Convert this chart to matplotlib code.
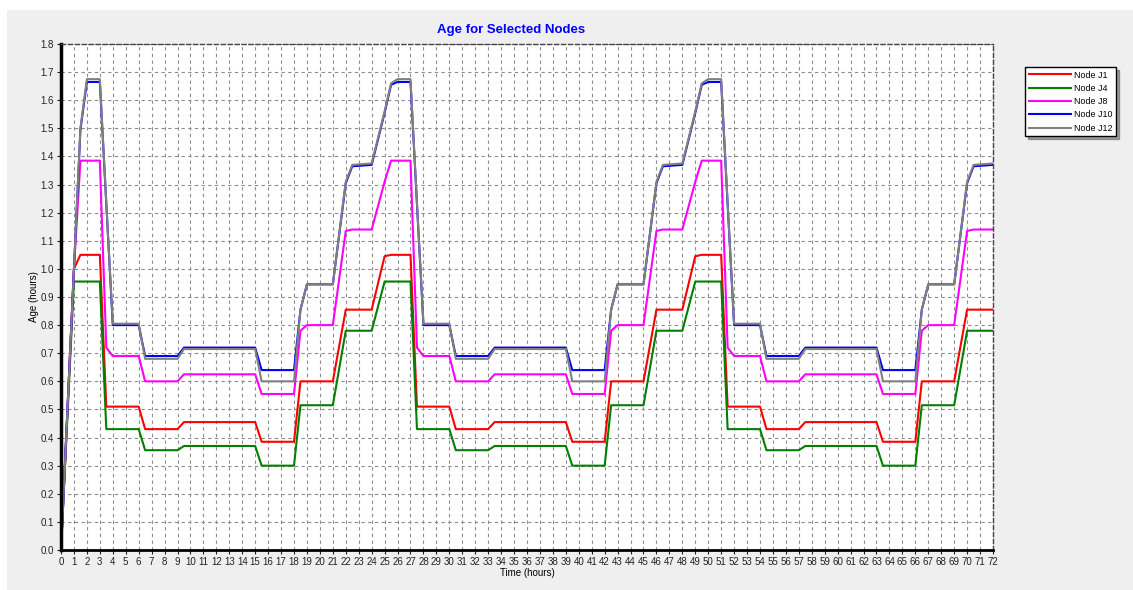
import matplotlib
matplotlib.use("Agg")
import matplotlib.pyplot as plt
from matplotlib.patches import Rectangle
from matplotlib.ticker import FormatStrFormatter

plt.rcParams["font.family"] = ["Liberation Sans", "DejaVu Sans"]

# time breakpoints (hours)
hours = [0, 1, 1.5, 2, 3,
         3.5, 4, 6, 6.5, 9, 9.5, 15, 15.5, 18, 18.5, 19, 21, 22, 22.5, 24, 25, 25.5, 26, 27,
         27.5, 28, 30, 30.5, 33, 33.5, 39, 39.5, 42, 42.5, 43, 45, 46, 46.5, 48, 49, 49.5, 50, 51,
         51.5, 52, 54, 54.5, 57, 57.5, 63, 63.5, 66, 66.5, 67, 69, 70, 70.5, 72]

node_j1 = [0, 1.0, 1.05, 1.05, 1.05,
           0.51, 0.51, 0.51, 0.43, 0.43, 0.455, 0.455, 0.385, 0.385, 0.60, 0.60, 0.60, 0.855, 0.855, 0.855, 1.045, 1.05, 1.05, 1.05,
           0.51, 0.51, 0.51, 0.43, 0.43, 0.455, 0.455, 0.385, 0.385, 0.60, 0.60, 0.60, 0.855, 0.855, 0.855, 1.045, 1.05, 1.05, 1.05,
           0.51, 0.51, 0.51, 0.43, 0.43, 0.455, 0.455, 0.385, 0.385, 0.60, 0.60, 0.60, 0.855, 0.855, 0.855]
node_j4 = [0, 0.955, 0.955, 0.955, 0.955,
           0.43, 0.43, 0.43, 0.355, 0.355, 0.37, 0.37, 0.30, 0.30, 0.515, 0.515, 0.515, 0.78, 0.78, 0.78, 0.955, 0.955, 0.955, 0.955,
           0.43, 0.43, 0.43, 0.355, 0.355, 0.37, 0.37, 0.30, 0.30, 0.515, 0.515, 0.515, 0.78, 0.78, 0.78, 0.955, 0.955, 0.955, 0.955,
           0.43, 0.43, 0.43, 0.355, 0.355, 0.37, 0.37, 0.30, 0.30, 0.515, 0.515, 0.515, 0.78, 0.78, 0.78]
node_j8 = [0, 1.0, 1.385, 1.385, 1.385,
           0.72, 0.69, 0.69, 0.60, 0.60, 0.625, 0.625, 0.555, 0.555, 0.78, 0.80, 0.80, 1.135, 1.14, 1.14, 1.31, 1.385, 1.385, 1.385,
           0.72, 0.69, 0.69, 0.60, 0.60, 0.625, 0.625, 0.555, 0.555, 0.78, 0.80, 0.80, 1.135, 1.14, 1.14, 1.31, 1.385, 1.385, 1.385,
           0.72, 0.69, 0.69, 0.60, 0.60, 0.625, 0.625, 0.555, 0.555, 0.78, 0.80, 0.80, 1.135, 1.14, 1.14]
node_j10 = [0, 1.0, 1.495, 1.665, 1.665,
            1.23, 0.80, 0.80, 0.69, 0.69, 0.72, 0.72, 0.64, 0.64, 0.855, 0.945, 0.945, 1.305, 1.365, 1.37, 1.555, 1.655, 1.665, 1.665,
            1.23, 0.80, 0.80, 0.69, 0.69, 0.72, 0.72, 0.64, 0.64, 0.855, 0.945, 0.945, 1.305, 1.365, 1.37, 1.555, 1.655, 1.665, 1.665,
            1.23, 0.80, 0.80, 0.69, 0.69, 0.72, 0.72, 0.64, 0.64, 0.855, 0.945, 0.945, 1.305, 1.365, 1.37]
node_j12 = [0, 1.0, 1.5, 1.675, 1.675,
            1.235, 0.805, 0.805, 0.68, 0.68, 0.715, 0.715, 0.60, 0.60, 0.855, 0.945, 0.945, 1.31, 1.37, 1.375, 1.56, 1.66, 1.675, 1.675,
            1.235, 0.805, 0.805, 0.68, 0.68, 0.715, 0.715, 0.60, 0.60, 0.855, 0.945, 0.945, 1.31, 1.37, 1.375, 1.56, 1.66, 1.675, 1.675,
            1.235, 0.805, 0.805, 0.68, 0.68, 0.715, 0.715, 0.60, 0.60, 0.855, 0.945, 0.945, 1.31, 1.37, 1.375]

series = [("Node J1", node_j1, "#ff0000"),
          ("Node J4", node_j4, "#008000"),
          ("Node J8", node_j8, "#ff00ff"),
          ("Node J10", node_j10, "#0000ff"),
          ("Node J12", node_j12, "#808080")]

W, H = 1133, 590
fig = plt.figure(figsize=(W / 100, H / 100), dpi=100, facecolor="white")
# light grey panel behind everything
panel = Rectangle((7 / W, 0), 1 - 7 / W, 1 - 10 / H, transform=fig.transFigure,
                  facecolor="#efefef", edgecolor="none", zorder=-10)
fig.patches.append(panel)

ax = fig.add_axes([61 / W, 40 / H, 932 / W, 506 / H])
ax.set_zorder(1)
ax.set_facecolor("white")

for name, vals, col in series:
    ax.plot(hours, vals, color=col, lw=1.5, label=name)

ax.set_xlim(0, 72)
ax.set_ylim(0, 1.8)
ax.set_xticks(range(0, 73))
ax.set_yticks([i / 10 for i in range(19)])
ax.yaxis.set_major_formatter(FormatStrFormatter("%.1f"))
ax.tick_params(labelsize=7, length=3, width=0.8, pad=2, colors="#222222")
ax.grid(True, color="#8c8c8c", linestyle=(0, (3, 3)), lw=0.8)

for s in ("top", "right"):
    ax.spines[s].set_linestyle((0, (3, 2)))
    ax.spines[s].set_color("#444444")
    ax.spines[s].set_linewidth(1)
ax.spines["left"].set_linewidth(2.5)
ax.spines["bottom"].set_linewidth(2)

ax.set_xlabel("Time (hours)", fontsize=7, labelpad=1)
ax.set_ylabel("Age (hours)", fontsize=7, labelpad=1)
fig.text(511 / W, 1 - 30 / H, "Age for Selected Nodes", color="#0000ff",
         fontsize=9.5, fontweight="bold", ha="center", va="center")

ax.legend(loc="upper left", bbox_to_anchor=(1025 / W, 1 - 67 / H), bbox_transform=fig.transFigure,
          borderaxespad=0, fontsize=6.4, frameon=True, fancybox=False, shadow=True,
          edgecolor="black", framealpha=1, handlelength=4.8, handletextpad=0.35,
          labelspacing=0.48, borderpad=0.4)

fig.savefig("out.png", dpi=100)
